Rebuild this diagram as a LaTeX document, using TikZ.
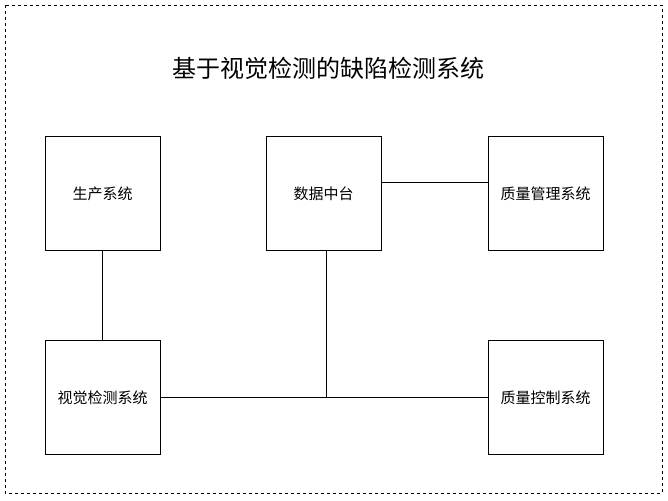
\documentclass[tikz,border=0pt]{standalone}
\usepackage{fontspec}
\setmainfont{Noto Sans CJK SC}
\begin{document}
\begin{tikzpicture}[x=1pt,y=-1pt,
  box/.style={draw,line width=0.8pt,minimum width=115pt,minimum height=114pt,font=\fontsize{15}{17}\selectfont,inner sep=0pt},
  ln/.style={line width=0.8pt}]
\useasboundingbox (0,0) rectangle (668,500);
\draw[dashed,line width=0.6pt] (5,5) rectangle (662,493);
\node[font=\fontsize{24}{27}\selectfont] (t) at (328,68) {基于视觉检测的缺陷检测系统};
\node[box] (a) at (102.5,193.5) {生产系统};
\node[box] (b) at (323.5,193.5) {数据中台};
\node[box] (c) at (545.5,193.5) {质量管理系统};
\node[box] (d) at (102.5,397.5) {视觉检测系统};
\node[box] (e) at (545.5,397.5) {质量控制系统};
\draw[ln] (a.south) -- (d.north);
\draw[ln] (b.east |- 0,182) -- (c.west |- 0,182);
\draw[ln] (d.east) -- (e.west);
\coordinate (j) at (326,397.5);
\draw[ln] (b.south -| j) -- (j);
\end{tikzpicture}
\end{document}
